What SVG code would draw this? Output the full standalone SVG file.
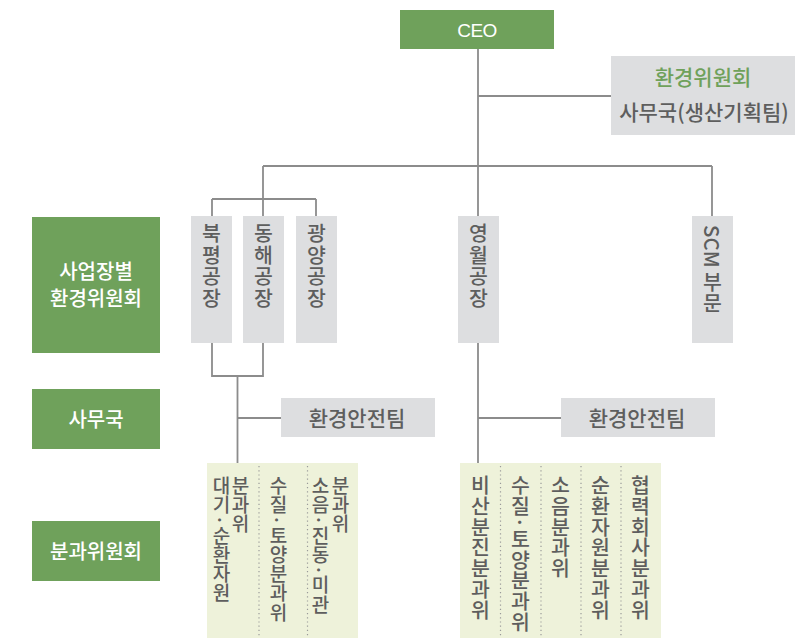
<svg xmlns="http://www.w3.org/2000/svg" width="801" height="638" viewBox="0 0 801 638">
<style>
.green{fill:#6fa15b}
.gbox{fill:#dddee0}
.strip{fill:#eef2da}
.wt{fill:#ffffff;font-family:"Noto Sans CJK KR",sans-serif;font-size:20px;font-weight:500;text-anchor:middle}
.gt{fill:#5e5e5e;font-family:"Noto Sans CJK KR",sans-serif;font-size:21px;font-weight:500;text-anchor:middle}
.vt{fill:#5e5e5e;font-family:"Noto Sans CJK KR",sans-serif;font-size:20.5px;font-weight:500;writing-mode:vertical-rl;letter-spacing:1px}
.vr{fill:#5e5e5e;font-family:"Noto Sans CJK KR",sans-serif;font-size:20.5px;font-weight:500;writing-mode:vertical-rl;letter-spacing:0.3px}
.vs{fill:#5e5e5e;font-family:"Noto Sans CJK KR",sans-serif;font-size:19px;font-weight:500;writing-mode:vertical-rl;letter-spacing:0.3px}
.ln{stroke:#8c8c8c;stroke-width:1.8;fill:none}
.dot{stroke:#9a9a9a;stroke-width:1.2;stroke-dasharray:1.2 3;fill:none}
</style>
<g id="connectors">
<path class="ln" d="M478 49V166M478 96H611M263 166H712M263 166V199M212 199H316M212 199V216M263 199V216M316 199V216M478 166V216M712 166V216"/>
<path class="ln" d="M212 343V376H263V343M237.5 376V463M237.5 418H281"/>
<path class="ln" d="M478 343V463M478 418H561"/>
</g>
<g id="ceo">
<rect class="green" x="400" y="10" width="154" height="39"/>
<text x="477" y="37" style="fill:#fff;font-family:'Liberation Sans',Arial,sans-serif;font-size:19px;text-anchor:middle;letter-spacing:-0.6px">CEO</text>
</g>
<g id="committee-office">
<rect class="gbox" x="611" y="56" width="184" height="79"/>
<text class="gt" x="703" y="85" style="fill:#6fa15b">환경위원회</text>
<text class="gt" x="704" y="120">사무국(생산기획팀)</text>
</g>
<g id="label-site">
<rect class="green" x="32" y="217" width="128" height="136"/>
<text class="wt" x="96" y="279">사업장별</text>
<text class="wt" x="96" y="306">환경위원회</text>
</g>
<g id="label-office">
<rect class="green" x="32" y="389" width="128" height="60"/>
<text class="wt" x="96" y="427">사무국</text>
</g>
<g id="label-sub">
<rect class="green" x="32" y="521" width="128" height="60"/>
<text class="wt" x="96" y="559">분과위원회</text>
</g>
<g id="bukpyeong">
<rect class="gbox" x="191" y="216" width="41" height="127"/>
<text class="vt" x="211.5" y="223">북평공장</text>
</g>
<g id="donghae">
<rect class="gbox" x="243" y="216" width="41" height="127"/>
<text class="vt" x="263.5" y="223">동해공장</text>
</g>
<g id="gwangyang">
<rect class="gbox" x="296" y="216" width="41" height="127"/>
<text class="vt" x="316.5" y="223">광양공장</text>
</g>
<g id="yeongwol">
<rect class="gbox" x="458" y="216" width="41" height="127"/>
<text class="vt" x="478.5" y="223">영월공장</text>
</g>
<g id="scm">
<rect class="gbox" x="692" y="216" width="41" height="127"/>
<text class="vt" x="712.5" y="225" style="letter-spacing:0">SCM 부문</text>
</g>
<g id="safety-team-1">
<rect class="gbox" x="281" y="398" width="154" height="39"/>
<text class="gt" x="357" y="425.5">환경안전팀</text>
</g>
<g id="safety-team-2">
<rect class="gbox" x="561" y="398" width="154" height="39"/>
<text class="gt" x="637" y="425.5">환경안전팀</text>
</g>
<g id="subcommittees-1">
<rect class="strip" x="207" y="463" width="151" height="175"/>
<path class="dot" d="M259 466V636M307.5 466V636"/>
<text class="vs" x="221.5" y="476">대기·순환자원</text>
<text class="vs" x="240.5" y="476">분과위</text>
<text class="vs" x="278.5" y="476">수질·토양분과위</text>
<text class="vs" x="320.5" y="476">소음·진동·미관</text>
<text class="vs" x="340.5" y="476">분과위</text>
</g>
<g id="subcommittees-2">
<rect class="strip" x="460" y="463" width="201" height="175"/>
<path class="dot" d="M500.5 466V636M541 466V636M581 466V636M621 466V636"/>
<text class="vr" x="480.5" y="475">비산분진분과위</text>
<text class="vr" x="520.5" y="475">수질·토양분과위</text>
<text class="vr" x="560.5" y="475">소음분과위</text>
<text class="vr" x="600.5" y="475">순환자원분과위</text>
<text class="vr" x="640.5" y="475">협력회사분과위</text>
</g>
</svg>
